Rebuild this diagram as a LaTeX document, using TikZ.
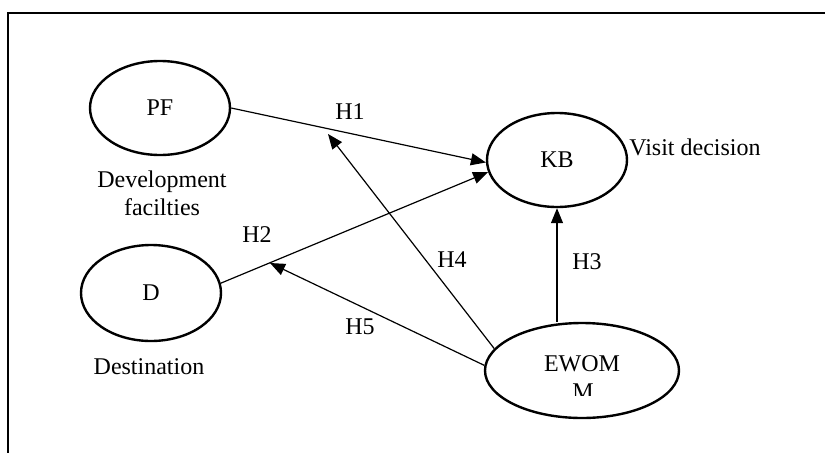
\documentclass[tikz,border=0pt]{standalone}
\usepackage{fontspec}
\setmainfont{Liberation Serif}
\usetikzlibrary{shapes.geometric,arrows.meta,calc}
\begin{document}
\begin{tikzpicture}[x=1pt,y=-1pt,
  construct/.style={ellipse,draw,line width=2.4pt,inner sep=0pt,
    minimum width=140pt,minimum height=94pt,font=\fontsize{24}{28}\selectfont},
  txt/.style={inner sep=0pt,font=\fontsize{24}{28}\selectfont},
  link/.style={line width=1.2pt,-{Triangle[length=15pt,width=12pt]}}]
\useasboundingbox (0,0) rectangle (825,453);
% frame
\draw[line width=2pt] (825,13) -- (8,13) -- (8,453);
% constructs
\node[construct] (pf) at (160,108) {PF};
\node[construct] (kb) at (557,160) {KB};
\node[construct,minimum height=96pt] (d) at (151,293) {D};
\node[construct,minimum width=194pt,minimum height=95pt] (ewom) at (582,370.5) {};
\node[txt,anchor=base] (ewomtxt) at (582,371) {EWOM};
\begin{scope}
  \clip (485,330) rectangle (679,395);
  \node[txt,anchor=base] (ewomtxt2) at (583,399) {M};
\end{scope}
% side labels
\node[txt,align=center] (pflab) at (162,193) {Development\\facilties};
\node[txt] (dlab) at (149,367) {Destination};
\node[txt] (kblab) at (695,147) {Visit decision};
% moderation points
\coordinate (m1) at (328,134);
\coordinate (m2) at (270,263);
% connectors
\draw[link] (pf.east) -- (kb.182);
\draw[link] (d.8) -- (kb.190);
\draw[link] (ewom.166) -- (m1);
\draw[link] (ewom.177) -- (m2);
\draw[link] (kb.south |- ewom.north) -- (kb.south);
% hypothesis labels
\node[txt] (h1) at (350,112) {H1};
\node[txt] (h2) at (257,235) {H2};
\node[txt] (h3) at (587,262) {H3};
\node[txt] (h4) at (452,260) {H4};
\node[txt] (h5) at (360,327) {H5};
\end{tikzpicture}
\end{document}
